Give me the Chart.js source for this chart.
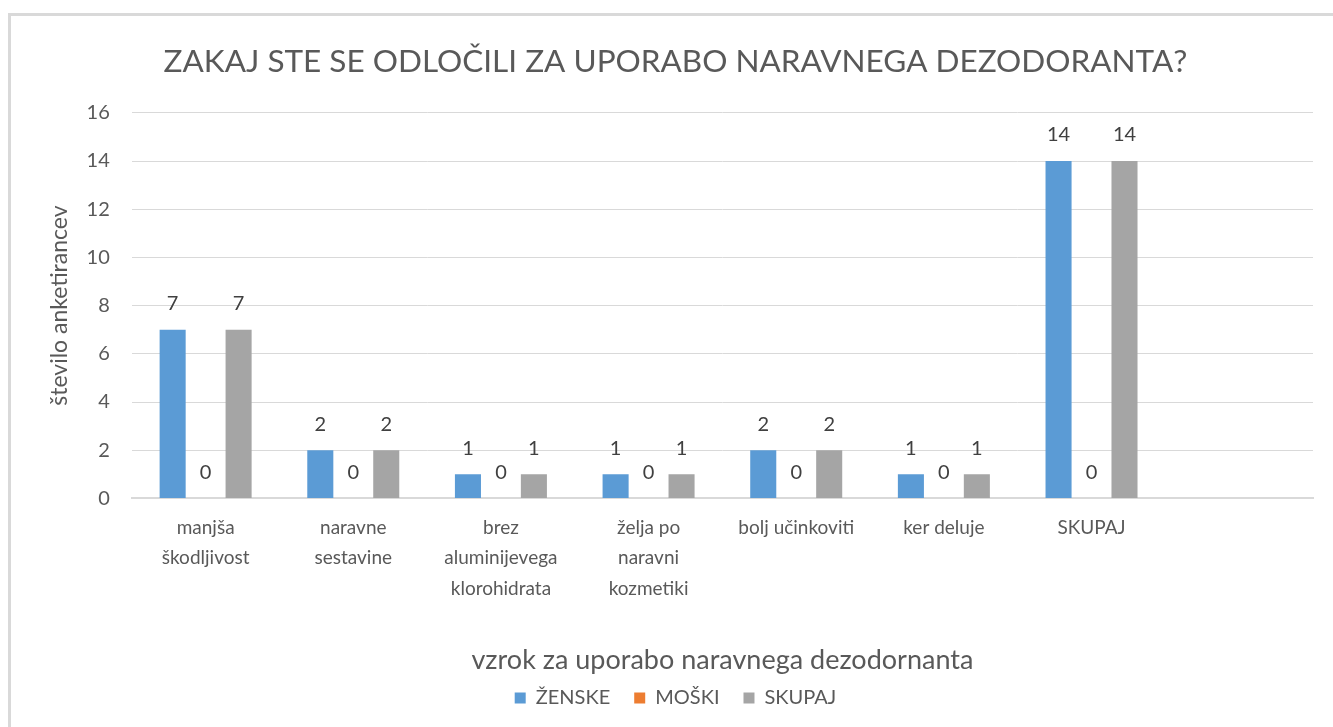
<!DOCTYPE html>
<html>
<head>
<meta charset="utf-8">
<script src="https://cdn.jsdelivr.net/npm/chart.js@4.4.0/dist/chart.umd.min.js"></script>
<style>
  html, body { margin: 0; padding: 0; background: #fff; overflow: hidden; }
  #frame {
    position: absolute; left: 8px; top: 13px; width: 1400px; height: 800px;
    border-top: 3px solid #d9d9d9; border-left: 3px solid #d9d9d9;
  }
  #wrap { position: absolute; left: 0; top: 0; width: 1333px; height: 727px; }
</style>
</head>
<body>
<div id="frame"></div>
<div id="wrap"><canvas id="chart" width="1333" height="727"></canvas></div>
<script>
// categories (last one is an empty slot, as in the original sheet)
const categories = [
    ['manjša', 'škodljivost'],
    ['naravne', 'sestavine'],
    ['brez', 'aluminijevega', 'klorohidrata'],
    ['želja po', 'naravni', 'kozmetiki'],
    'bolj učinkoviti',
    'ker deluje',
    'SKUPAJ',
    ''
];
const zenske = [7, 2, 1, 1, 2, 1, 14, null];
const moski = [0, 0, 0, 0, 0, 0, 0, null];
const skupaj = [7, 2, 1, 1, 2, 1, 14, null];
const yTicks = [0, 2, 4, 6, 8, 10, 12, 14, 16];

const FONT = 'Lato, "Open Sans", sans-serif';
const TEXT = '#595959';

// value labels above every bar (also the zeros)
const valueLabels = {
    id: 'valueLabels',
    afterDatasetsDraw(chart) {
        const { ctx } = chart;
        ctx.save();
        ctx.font = '20px ' + FONT;
        ctx.fillStyle = '#404040';
        ctx.textAlign = 'center';
        ctx.textBaseline = 'middle';
        chart.data.datasets.forEach((ds, i) => {
            const meta = chart.getDatasetMeta(i);
            meta.data.forEach((el, j) => {
                const v = ds.data[j];
                if (v === null || v === undefined) return;
                ctx.fillText(String(v), el.x, el.y - 26);
            });
        });
        ctx.restore();
    }
};

new Chart(document.getElementById('chart'), {
    type: 'bar',
    data: {
        labels: categories,
        datasets: [
            { label: 'ŽENSKE', data: zenske, backgroundColor: '#5b9bd5' },
            { label: 'MOŠKI', data: moski, backgroundColor: '#ed7d31' },
            { label: 'SKUPAJ', data: skupaj, backgroundColor: '#a5a5a5' }
        ]
    },
    options: {
        responsive: false,
        animation: false,
        datasets: {
            bar: { categoryPercentage: 0.67, barPercentage: 0.79 }
        },
        layout: { padding: { left: 38, right: 20, top: 0, bottom: 9 } },
        plugins: {
            title: {
                display: true,
                text: 'ZAKAJ STE SE ODLOČILI ZA UPORABO NARAVNEGA DEZODORANTA?',
                color: TEXT,
                font: { family: FONT, size: 31.5, weight: 'normal' },
                padding: { top: 43, bottom: 32 }
            },
            legend: {
                position: 'bottom',
                labels: {
                    color: TEXT,
                    font: { family: FONT, size: 20 },
                    boxWidth: 11,
                    boxHeight: 11,
                    padding: 24
                }
            },
            tooltip: { enabled: false }
        },
        scales: {
            x: {
                grid: { display: false },
                border: { display: true, color: '#d9d9d9', width: 2 },
                ticks: {
                    color: TEXT,
                    font: { family: FONT, size: 19, lineHeight: 1.6 },
                    autoSkip: false,
                    maxRotation: 0,
                    padding: 6
                },
                title: {
                    display: true,
                    text: 'vzrok za uporabo naravnega dezodornanta',
                    color: TEXT,
                    font: { family: FONT, size: 27 },
                    padding: { top: 34, bottom: -12 }
                }
            },
            y: {
                min: 0,
                max: 16,
                afterBuildTicks(axis) {
                    axis.ticks = yTicks.map(v => ({ value: v }));
                },
                grid: {
                    color: '#d9d9d9',
                    lineWidth: 1,
                    drawTicks: false
                },
                border: { display: false },
                ticks: {
                    color: TEXT,
                    font: { family: FONT, size: 20 },
                    padding: 22
                },
                title: {
                    display: true,
                    text: 'število anketirancev',
                    color: TEXT,
                    font: { family: FONT, size: 23 },
                    padding: { top: 8, bottom: -9 }
                }
            }
        }
    },
    plugins: [valueLabels]
});
</script>
</body>
</html>
